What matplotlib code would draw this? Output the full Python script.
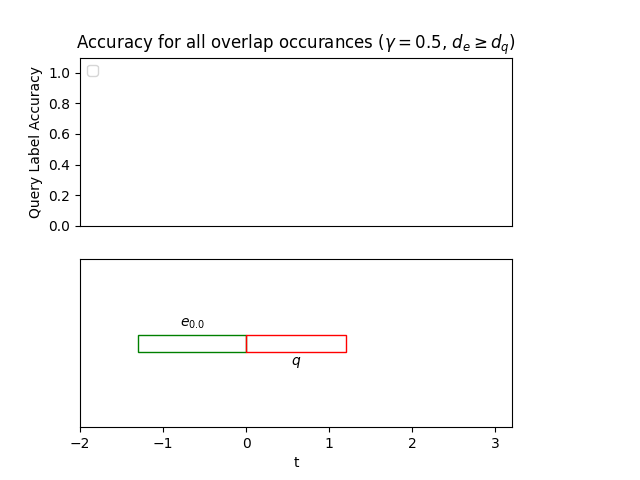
import matplotlib
matplotlib.use("Agg")
import matplotlib.pyplot as plt
from matplotlib.patches import Rectangle

# intervals on the t axis
e_start, e_end = -1.3, 0.0
q_start, q_end = 0.0, 1.2
bar_y, bar_h = 0.45, 0.1

fig, (ax_top, ax_bot) = plt.subplots(2, 1, figsize=(6.4, 4.8))
fig.subplots_adjust(right=0.8)

ax_top.set_title(r"Accuracy for all overlap occurances ($\gamma = 0.5$, $d_e \geq d_q$)")
ax_top.set_ylabel("Query Label Accuracy")
ax_top.set_ylim(0, 1.1)
ax_top.set_xticks([])
ax_top.legend(handles=[], loc="upper left")

ax_bot.add_patch(Rectangle((e_start, bar_y), e_end - e_start, bar_h,
                           fill=False, edgecolor="green"))
ax_bot.add_patch(Rectangle((q_start, bar_y), q_end - q_start, bar_h,
                           fill=False, edgecolor="red"))
ax_bot.text((e_start + e_end) / 2, bar_y + bar_h + 0.02, r"$e_{0.0}$", ha="center", va="bottom")
ax_bot.text((q_start + q_end) / 2, bar_y - 0.02, r"$q$", ha="center", va="top")
ax_bot.set_xlim(-2, 3.2)
ax_bot.set_ylim(0, 1)
ax_bot.set_yticks([])
ax_bot.set_xlabel("t")

fig.savefig("out.png", dpi=100)
